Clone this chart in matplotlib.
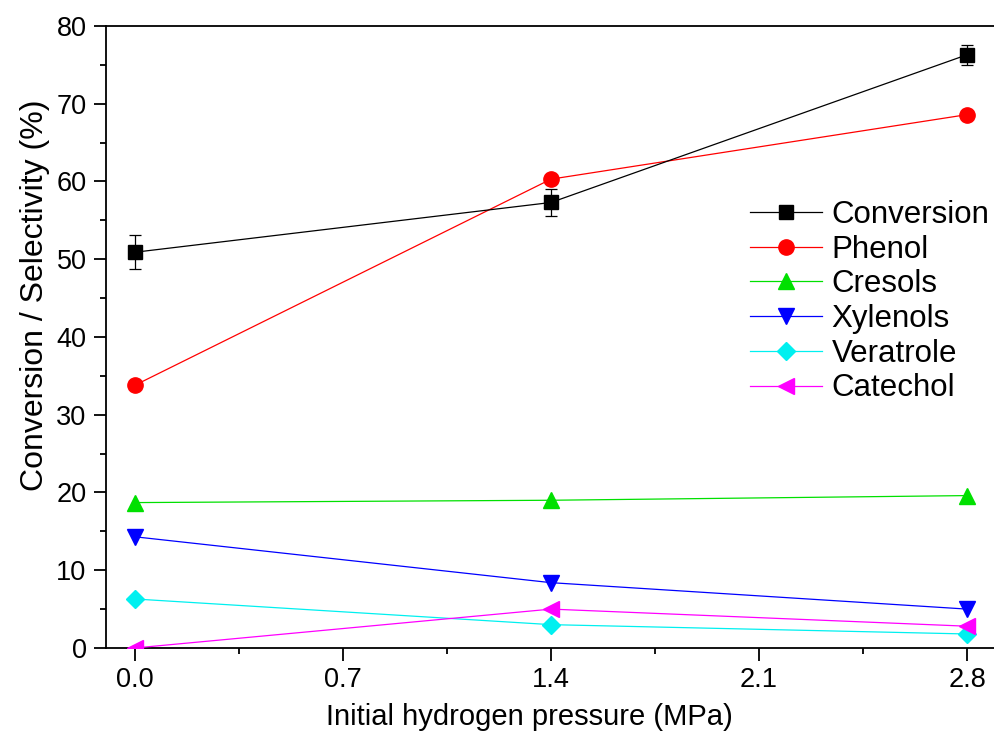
import matplotlib
matplotlib.use("Agg")
import matplotlib.pyplot as plt
from matplotlib.lines import Line2D
from matplotlib.ticker import MultipleLocator

plt.rcParams['font.family'] = ['Liberation Sans', 'DejaVu Sans']

pressure = [0.0, 1.4, 2.8]
conversion = [50.9, 57.3, 76.3]
conversion_err = [2.2, 1.7, 1.3]
phenol = [33.8, 60.3, 68.6]
cresols = [18.7, 19.0, 19.6]
xylenols = [14.3, 8.4, 5.0]
veratrole = [6.3, 3.0, 1.8]
catechol = [0.0, 5.0, 2.8]

x_ticks = [0.0, 0.7, 1.4, 2.1, 2.8]

W, H = 995, 734
fig = plt.figure(figsize=(W / 100, H / 100), dpi=100)
ax = fig.add_axes([0.1065, 0.1172, 0.8935, 0.8474])

lw = 0.9
ax.errorbar(pressure, conversion, yerr=conversion_err, color='black', marker='s',
            markersize=9.5, lw=lw, capsize=4, elinewidth=0.9, capthick=0.9,
            zorder=5)
conv_handle = Line2D([], [], color='black', marker='s', markersize=9.5, lw=lw,
                     label='Conversion')
h_phenol, = ax.plot(pressure, phenol, color='#ff0000', marker='o', markersize=11,
                    lw=lw, label='Phenol', zorder=4)
h_cres, = ax.plot(pressure, cresols, color='#00e000', marker='^', markersize=11.5,
                  lw=lw, label='Cresols', zorder=4)
h_xyl, = ax.plot(pressure, xylenols, color='#0000ff', marker='v', markersize=11.5,
                 lw=lw, label='Xylenols', zorder=4)
h_ver, = ax.plot(pressure, veratrole, color='#00f0f0', marker='D', markersize=9,
                 lw=lw, label='Veratrole', zorder=4)
h_cat, = ax.plot(pressure, catechol, color='#ff00ff', marker='<', markersize=11.5,
                 lw=lw, label='Catechol', zorder=4)

ax.set_xlim(-0.0976, 2.894)
ax.set_ylim(0, 80)
ax.set_xticks(x_ticks)
ax.set_xticklabels([f"{v:.1f}" for v in x_ticks])
ax.xaxis.set_minor_locator(MultipleLocator(0.35))
ax.yaxis.set_major_locator(MultipleLocator(10))
ax.yaxis.set_minor_locator(MultipleLocator(5))

ax.spines['right'].set_visible(False)
for s in ['left', 'bottom', 'top']:
    ax.spines[s].set_linewidth(1.3)

ax.tick_params(which='major', direction='out', length=9, width=1.3,
               labelsize=19.5, pad=5)
ax.tick_params(which='minor', direction='out', length=4.5, width=1.3)
ax.tick_params(top=False, right=False, which='both')

fig.text(529 / W, 1 - 725 / H, 'Initial hydrogen pressure (MPa)', fontsize=21,
         ha='center', va='baseline')
fig.text(43 / W, 1 - 295 / H, 'Conversion / Selectivity (%)', fontsize=23,
         rotation=90, rotation_mode='anchor', ha='center', va='baseline')

handles = [conv_handle, h_phenol, h_cres, h_xyl, h_ver, h_cat]
fig.legend(handles, [h.get_label() for h in handles], loc='upper left',
           bbox_to_anchor=(0.754, 1 - 200 / H), frameon=False,
           fontsize=22.5, handlelength=2.3, handletextpad=0.3,
           labelspacing=0.15, borderpad=0, borderaxespad=0, numpoints=1)

fig.savefig('out.png', dpi=100)
